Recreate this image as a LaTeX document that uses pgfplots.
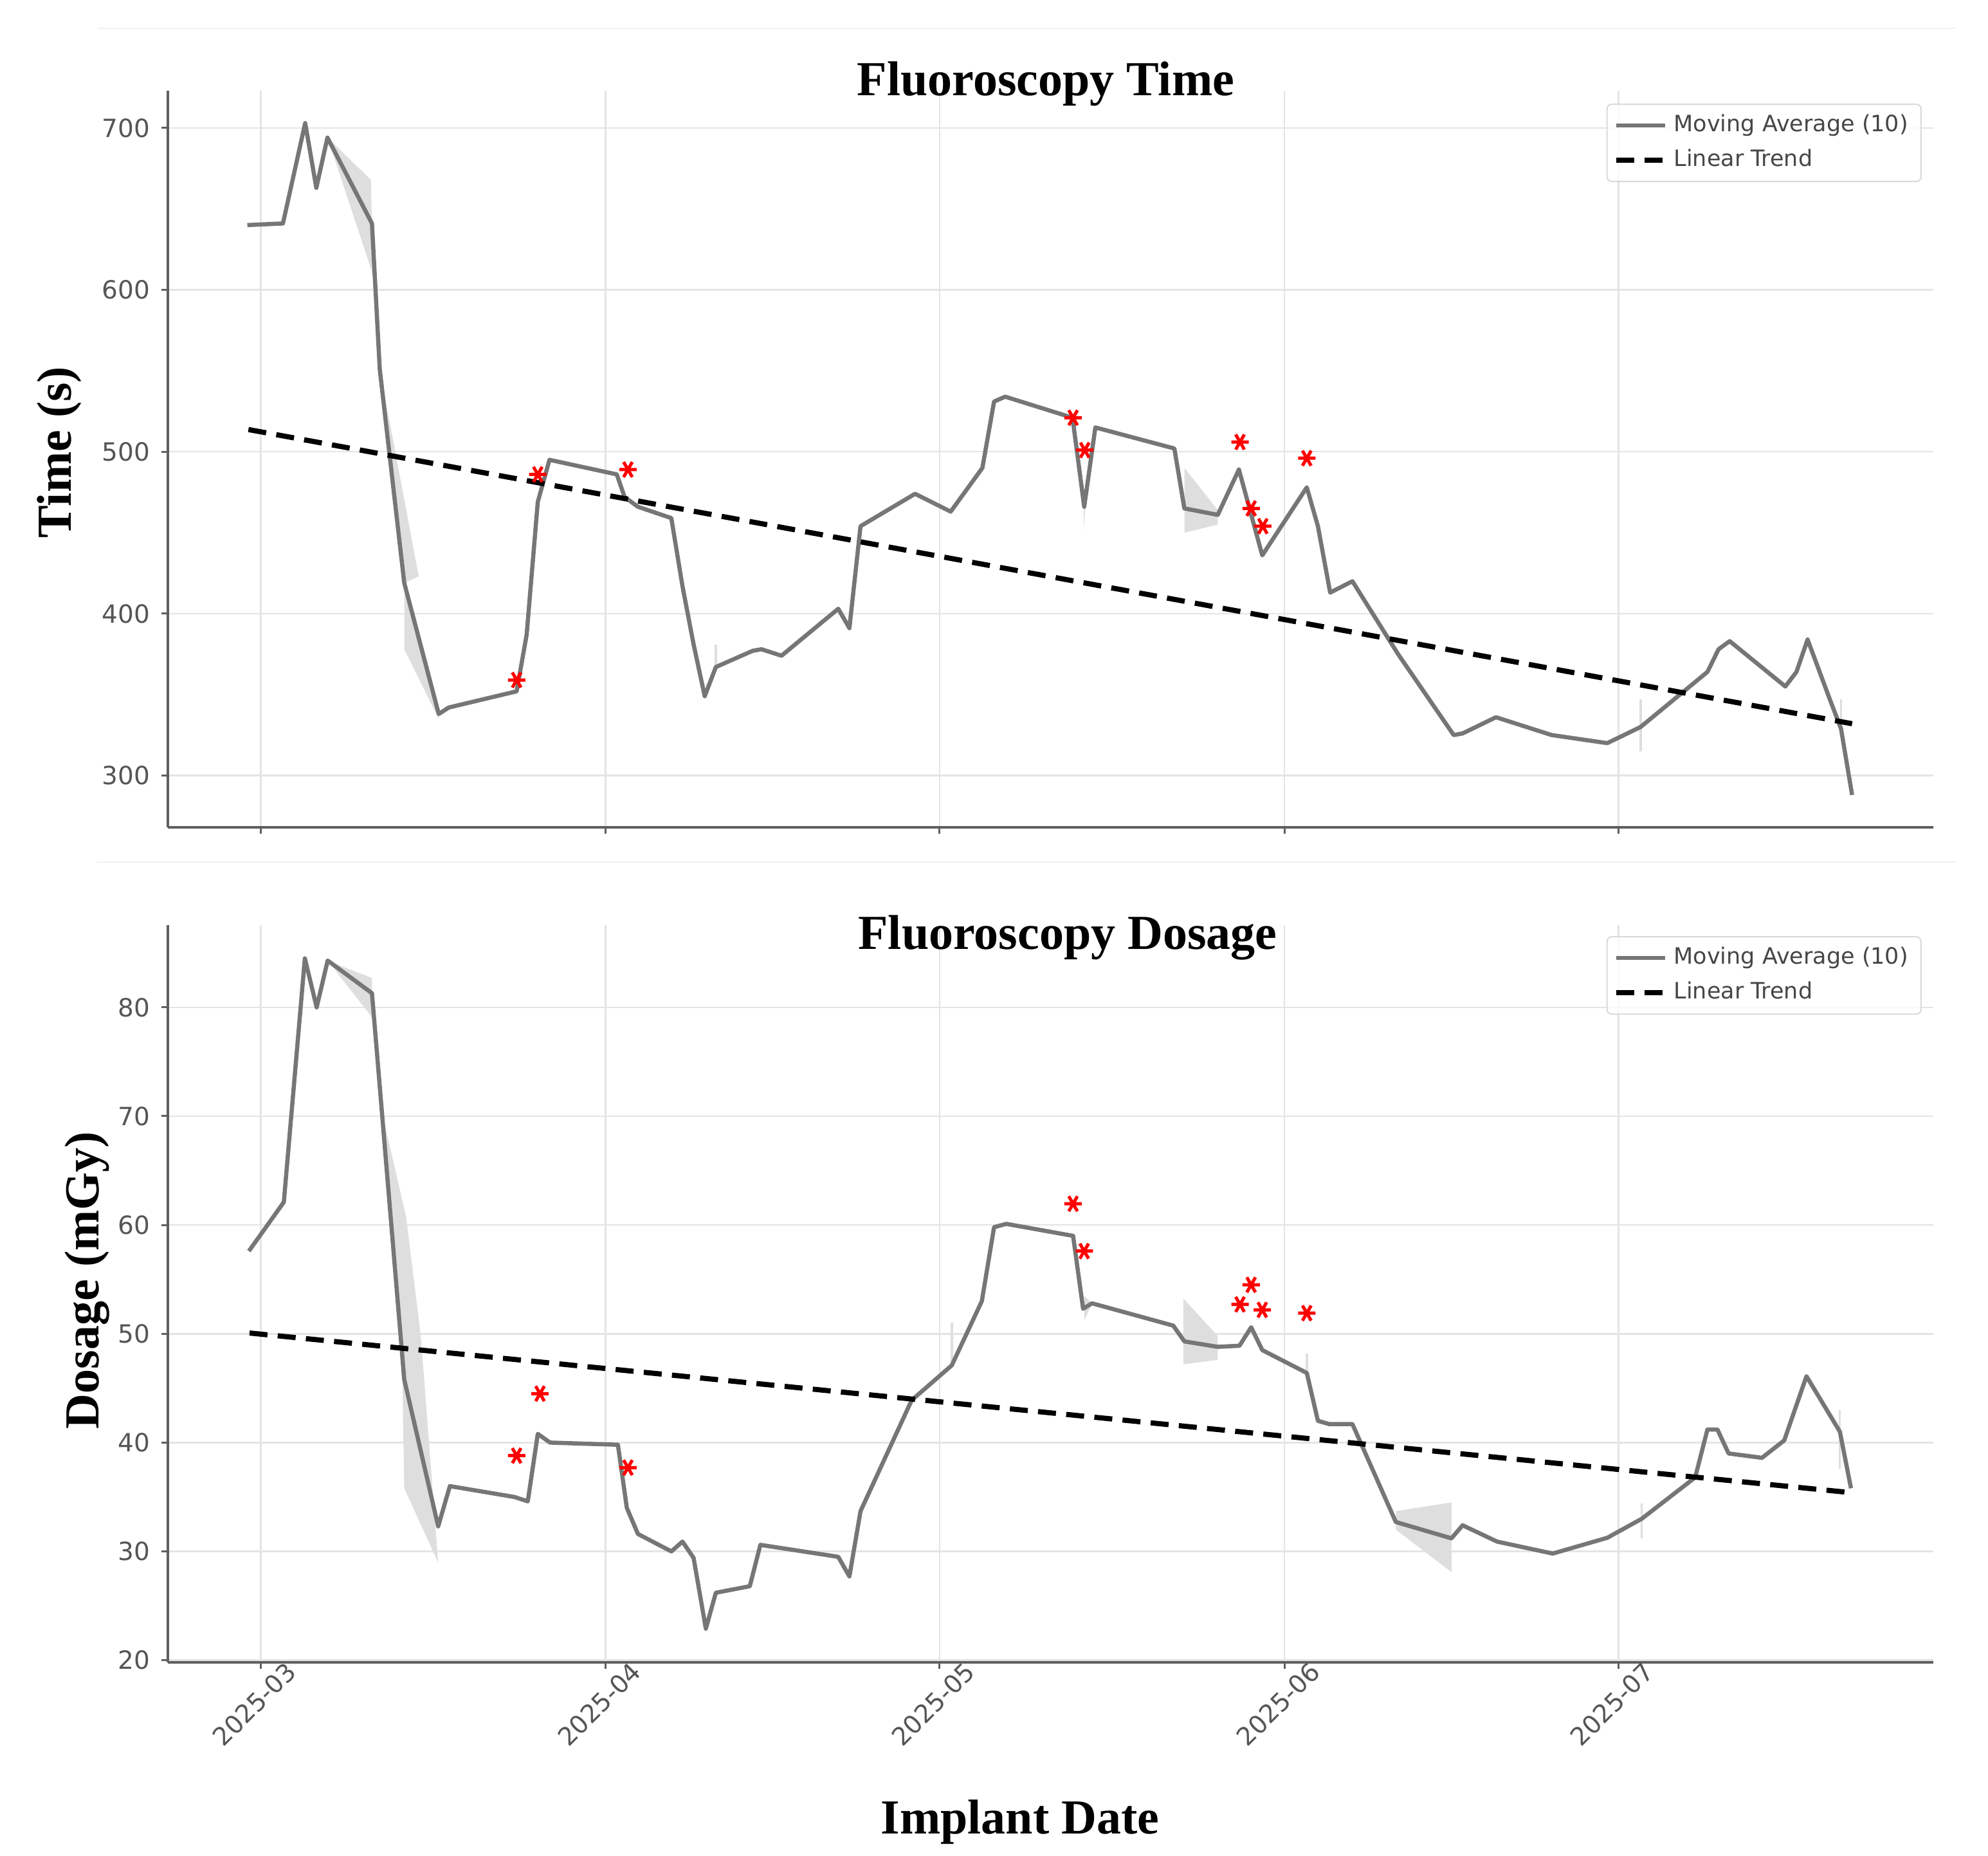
\documentclass[border=0pt]{standalone}
\usepackage{fontspec}
\setmainfont{Liberation Serif}
\newfontfamily\dejavu{DejaVu Sans}
\usepackage{pgfplots}
\pgfplotsset{compat=1.18}
\definecolor{magray}{RGB}{118,118,118}
\definecolor{axgray}{RGB}{95,95,95}
\definecolor{labgray}{RGB}{85,85,85}
\definecolor{legtext}{RGB}{70,70,70}
\definecolor{bandgray}{RGB}{222,222,222}
\definecolor{gridgray}{RGB}{228,228,228}

\pgfplotsset{
  myaxis/.style={
    scale only axis, width=549pt, anchor=south west,
    xmin=-8.34, xmax=150.3,
    axis x line*=bottom, axis y line*=left,
    axis line style={draw=axgray, line width=0.9pt, -},
    xtick={0,31,61,92,122},
    grid=major, major grid style={gridgray, line width=0.5pt},
    tick style={axgray, line width=0.6pt},
    tick align=outside, major tick length=2pt,
    tick label style={font=\dejavu\fontsize{7.8}{9}\selectfont, text=labgray},
    /pgf/number format/assume math mode=true,
    scaled y ticks=false,
    legend cell align=left,
    legend style={draw=gray!30, rounded corners=1.5pt, fill=white, fill opacity=0.8, text opacity=1,
      font=\dejavu\fontsize{7}{8}\selectfont, text=legtext,
      inner xsep=2pt, inner ysep=1.2pt, row sep=0pt},
    legend image code/.code={\draw[##1] (0pt,0pt) -- (15.2pt,0pt);},
  },
  maline/.style={magray, line width=1.3pt, line join=round},
  trend/.style={black, line width=1.6pt, dash pattern=on 5.6pt off 3.2pt},
  stars/.style={only marks, mark=asterisk, mark size=2.7pt, red, mark options={line width=1pt, rotate=90}, forget plot},
  band/.style={fill=bandgray, draw=none, forget plot},
  sliver/.style={bandgray, line width=0.7pt, forget plot},
}

\begin{document}
\begin{tikzpicture}[x=1pt,y=1pt]
\path[use as bounding box] (0,0) rectangle (618.2,576.8);
\draw[gray!12, line width=0.5pt] (30.4,568) -- (608,568);
\draw[gray!12, line width=0.5pt] (30.2,308.8) -- (608,308.8);

% ---------------- Top: Fluoroscopy Time ----------------
\begin{axis}[myaxis, at={(52.2pt,319.6pt)}, height=229pt,
  ymin=268, ymax=723, ytick={300,400,500,600,700},
  xticklabels={},
  legend style={at={(0.9934,0.9825)}, anchor=north east}]
\addplot[band] coordinates {(6,694) (9.9,668) (10.1,609) (9.24,627) (6.2,690)};
\addplot[band] coordinates {(10.7,551) (14.2,423) (12.9,419)};
\addplot[band] coordinates {(12.9,419) (12.9,378) (16.0,335) (16.0,338)};
\addplot[band] coordinates {(83,490) (86,464) (86,455) (83,450)};
\addplot[band] coordinates {(73.9,470) (74.0,452) (74.1,470)};
\addplot[sliver] coordinates {(124,347) (124,315)};
\addplot[sliver] coordinates {(142,347) (142,332)};
\addplot[sliver] coordinates {(40.9,367) (40.9,381)};
\addplot[maline] coordinates {
(-1.2,640) (2.0,641) (4.0,703) (5.0,663) (6.0,694) (10.0,641) (10.7,551) (12.9,419)
(16.0,338) (16.9,342) (23.0,352) (23.9,387) (24.9,469) (25.95,495) (32.0,486) (32.7,472)
(33.9,466) (36.9,459) (37.9,417) (38.9,381) (39.9,349) (40.9,367) (44.2,377) (45.0,378)
(46.8,374) (51.9,403) (52.9,391) (53.9,454) (58.8,474) (62.0,463) (64.85,490) (65.9,531)
(66.9,534) (72.95,521) (74.0,466) (75.0,515) (82.1,502) (83.0,465) (86.0,461) (87.9,489)
(90.0,436) (94.0,478) (95.0,454) (96.1,413) (98.1,420) (102.2,375) (107.2,325) (108.0,326)
(111.0,336) (116.0,325) (121.0,320) (124.0,330) (130.0,364) (131.0,378) (132.0,383)
(137.0,355) (138.0,364) (139.0,384) (141.0,347) (142.0,329) (143.0,288)};
\addlegendentry{Moving Average (10)}
\addplot[trend] coordinates {(-1.1,513.7) (143,332)};
\addlegendentry{Linear Trend}
\addplot[stars] coordinates {(23.0,359) (24.9,486) (33.0,489) (73.0,521) (74.05,501) (88.0,506) (89.0,465) (90.05,454) (94.0,496)};
\end{axis}

% ---------------- Bottom: Fluoroscopy Dosage ----------------
\begin{axis}[myaxis, at={(52.2pt,60pt)}, height=229.2pt,
  ymin=19.8, ymax=87.56, ytick={20,30,40,50,60,70,80},
  xticklabels={2025-03,2025-04,2025-05,2025-06,2025-07},
  xticklabel style={xshift=-2pt, rotate=45, anchor=center},
  xticklabel shift=11pt,
  legend style={at={(0.9934,0.985)}, anchor=north east}]
\addplot[band] coordinates {(6.2,84.2) (10,82.7) (10,79.1) (7,83)};
\addplot[band] coordinates {(10.92,70.25) (13.07,60.73) (14.39,49.8) (15.95,28.98) (12.9,35.8) (12.74,45.3) (11.31,64.8)};
\addplot[band] coordinates {(74.0,53.5) (74.7,52.8) (74.0,51.2)};
\addplot[band] coordinates {(82.9,53.25) (86.0,49.8) (86.0,47.6) (82.9,47.2)};
\addplot[band] coordinates {(102.0,33.7) (107.0,34.5) (107.0,28.1) (102.0,32.0)};
\addplot[sliver] coordinates {(62.1,47.1) (62.1,51)};
\addplot[sliver] coordinates {(94.0,46.4) (94.0,48.2)};
\addplot[sliver] coordinates {(124.1,31.2) (124.1,34.4)};
\addplot[sliver] coordinates {(141.9,37.6) (141.9,43)};
\addplot[maline] coordinates {
(-1.06,57.6) (2.08,62.1) (3.97,84.5) (5.03,80.0) (6.02,84.3) (10.0,81.3) (12.9,45.8)
(15.95,32.3) (17.0,36.0) (22.8,35.0) (24.0,34.6) (24.9,40.8) (26.0,40.0) (32.1,39.8)
(32.9,34.0) (33.9,31.6) (36.9,30.0) (37.9,30.9) (38.9,29.4) (40.0,22.9) (40.9,26.2)
(43.95,26.8) (44.9,30.6) (51.9,29.5) (52.9,27.7) (53.9,33.7) (58.5,43.9) (62.1,47.1)
(64.8,53.0) (65.9,59.8) (67.0,60.1) (73.0,59.0) (73.9,52.3) (74.7,52.8) (82.0,50.75)
(83.0,49.3) (86.0,48.8) (87.95,48.9) (89.0,50.6) (90.0,48.5) (94.0,46.4) (95.0,42.0)
(96.0,41.7) (98.1,41.7) (102.0,32.7) (107.0,31.2) (108.0,32.4) (111.1,30.9) (116.1,29.8)
(121.0,31.25) (124.1,33.0) (128.9,36.8) (130.0,41.2) (130.9,41.2) (131.9,39.0) (134.9,38.6)
(136.9,40.2) (138.9,46.1) (141.9,41.0) (142.9,35.8)};
\addlegendentry{Moving Average (10)}
\addplot[trend] coordinates {(-1.0,50.07) (142.9,35.4)};
\addlegendentry{Linear Trend}
\addplot[stars] coordinates {(23.0,38.8) (25.1,44.5) (33.0,37.7) (73.0,61.95) (74.0,57.6) (88.0,52.7) (89.0,54.5) (90.0,52.2) (94.0,51.9)};
\end{axis}

\node[font=\bfseries\fontsize{15.2}{18}\selectfont, anchor=base] at (325.2,547) {Fluoroscopy Time};
\node[font=\bfseries\fontsize{15.2}{18}\selectfont, anchor=base] at (332,281.8) {Fluoroscopy Dosage};
\node[font=\bfseries\fontsize{15.2}{18}\selectfont, anchor=base] at (317.2,6.8) {Implant Date};
\node[font=\bfseries\fontsize{15.2}{18}\selectfont, rotate=90, anchor=base] at (22,436.2) {Time (s)};
\node[font=\bfseries\fontsize{15.2}{18}\selectfont, rotate=90, anchor=base] at (30.6,178.8) {Dosage (mGy)};
\end{tikzpicture}
\end{document}
